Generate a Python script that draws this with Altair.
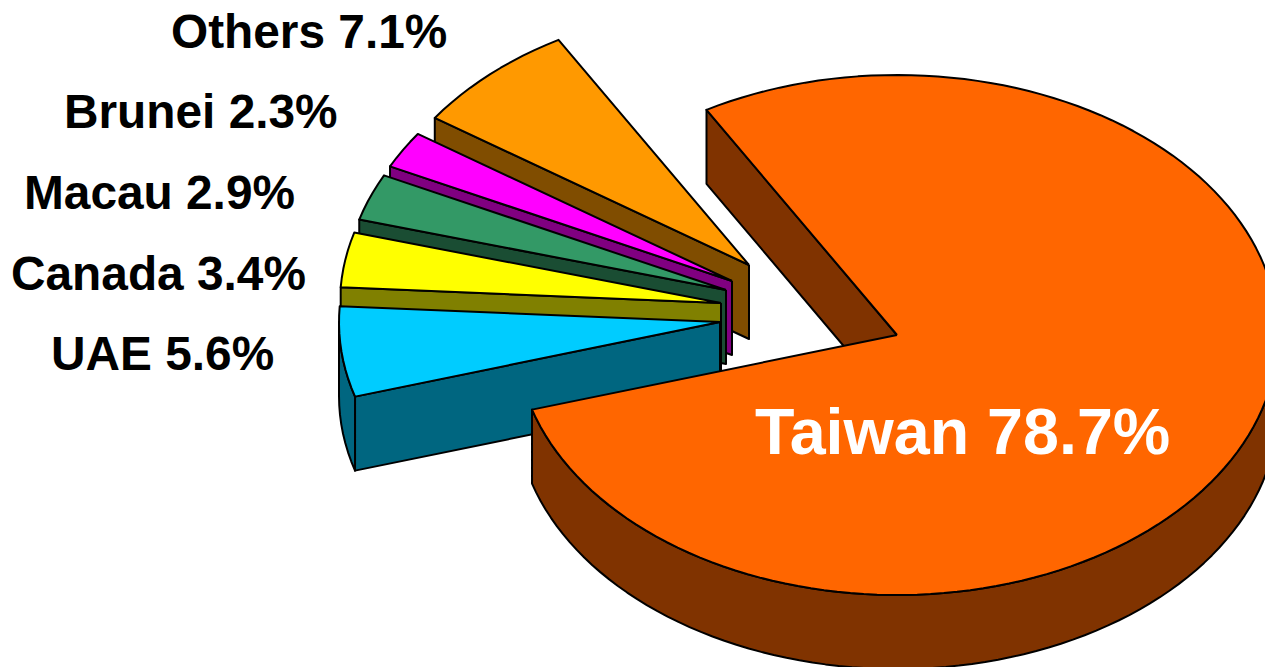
import math
import altair as alt
import pandas as pd

# --- data -------------------------------------------------------------
names = ["Taiwan", "UAE", "Canada", "Macau", "Brunei", "Others"]
shares = [78.7, 5.6, 3.4, 2.9, 2.3, 7.1]

# --- style / layout ---------------------------------------------------
top_colors = ["#FF6600", "#00CCFF", "#FFFF00", "#339966", "#FF00FF", "#FF9900"]
wall_colors = ["#803300", "#006680", "#808000", "#1A4D33", "#800080", "#804D00"]
apexes = [(897, 335), (720, 322), (721, 303), (726, 290), (732, 281), (749, 265)]
label_pos = [(755, 454), (51, 370), (11, 290), (24, 209), (64, 128), (171, 48)]
label_size = [64.6, 47.8, 47.8, 47.8, 47.8, 47.8]
label_color = ["white", "black", "black", "black", "black", "black"]
RX, RY, DEPTH = 381, 260, 74
START = -30.0
W, H = 1265, 667

x_scale = alt.Scale(domain=[8, W], range=[0, W - 8], nice=False, zero=False)
y_scale = alt.Scale(domain=[8, H], range=[0, H - 8], nice=False, zero=False)


def rim(ax, ay, a0, a1, drop=0, step=2.0):
    n = max(1, int(abs(a1 - a0) / step))
    out = []
    for k in range(n + 1):
        t = math.radians(a0 + (a1 - a0) * k / n)
        out.append((ax + RX * math.sin(t), ay - RY * math.cos(t) + drop))
    return out


def poly(points, color):
    pts = points + [points[0]]
    df = pd.DataFrame({"x": [p[0] for p in pts], "y": [p[1] for p in pts], "i": range(len(pts))})
    return alt.Chart(df).mark_line(fill=color, stroke="black", strokeWidth=2, strokeJoin="round", clip=True).encode(
        x=alt.X("x:Q", scale=x_scale, axis=None),
        y=alt.Y("y:Q", scale=y_scale, axis=None),
        order="i:Q",
    )


extents = []
a = START
for s in shares:
    extents.append((a, a + s * 3.6))
    a += s * 3.6

layers = []
for idx in [5, 4, 3, 2, 1, 0]:
    a0, a1 = extents[idx]
    ax, ay = apexes[idx]
    wall = wall_colors[idx]
    p = rim(ax, ay, a0, a0)[0]
    layers.append(poly([(ax, ay), p, (p[0], p[1] + DEPTH), (ax, ay + DEPTH)], wall))
    r0, r1 = max(a0, 90), min(a1, 270)
    if r1 > r0:
        arc = rim(ax, ay, r0, r1)
        layers.append(poly(arc + [(x, y + DEPTH) for x, y in reversed(arc)], wall))
    layers.append(poly([(ax, ay)] + rim(ax, ay, a0, a1), top_colors[idx]))

for idx, name in enumerate(names):
    lx, ly = label_pos[idx]
    df = pd.DataFrame({"x": [lx], "y": [ly], "t": [f"{name} {shares[idx]}%"]})
    layers.append(
        alt.Chart(df).mark_text(
            align="left", baseline="alphabetic", font="Liberation Sans", fontWeight="bold",
            fontSize=label_size[idx], color=label_color[idx],
        ).encode(
            x=alt.X("x:Q", scale=x_scale, axis=None),
            y=alt.Y("y:Q", scale=y_scale, axis=None),
            text="t:N",
        )
    )

chart = (
    alt.layer(*layers)
    .properties(width=W - 8, height=H - 8, padding=0, autosize=alt.AutoSizeParams(type="none"))
    .configure_view(stroke=None)
)
chart.save("out.html", embed_options={"renderer": "svg", "actions": False})
